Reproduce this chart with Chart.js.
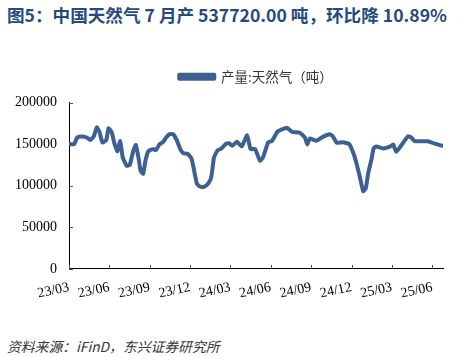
<!DOCTYPE html>
<html><head><meta charset="utf-8">
<script src="https://cdn.jsdelivr.net/npm/chart.js@4"></script>
<style>
html,body{margin:0;padding:0;background:#fff;width:471px;height:357px;overflow:hidden;}
#title{position:absolute;left:7px;top:2px;font:bold 17.6px "Noto Sans CJK SC","Noto Sans",sans-serif;color:#264a7e;white-space:nowrap;}
#src{position:absolute;left:7px;top:336px;font:italic 13.8px "Noto Sans CJK SC","Liberation Sans",sans-serif;color:#333;white-space:nowrap;}
#wrap{position:absolute;left:0;top:0;width:471px;height:316px;}
</style></head>
<body>
<div id="title">图5：中国天然气 7 月产 537720.00 吨，环比降 10.89%</div>
<div id="wrap"><canvas id="c"></canvas></div>
<div id="src">资料来源：iFinD，东兴证券研究所</div>
<script>
const seriesName = '产量:天然气（吨）';
const tickLabels = ['23/03','23/06','23/09','23/12','24/03','24/06','24/09','24/12','25/03','25/06'];
const dates = [
'2023-03-01','2023-03-13','2023-03-20','2023-04-01','2023-04-12','2023-04-18','2023-04-26','2023-05-03','2023-05-09','2023-05-16',
'2023-05-25','2023-05-30','2023-06-06','2023-06-13','2023-06-19','2023-06-25','2023-07-01','2023-07-10','2023-07-17','2023-07-25',
'2023-07-31','2023-08-07','2023-08-11','2023-08-17','2023-08-22','2023-08-29','2023-09-08','2023-09-15','2023-09-23','2023-10-01',
'2023-10-07','2023-10-16','2023-10-24','2023-11-01','2023-11-10','2023-11-16','2023-11-25','2023-12-04','2023-12-09','2023-12-17',
'2023-12-25','2024-01-03','2024-01-12','2024-01-19','2024-01-25','2024-02-02','2024-02-11','2024-02-20','2024-02-27','2024-03-05',
'2024-03-16','2024-03-27','2024-04-08','2024-04-16','2024-04-26','2024-05-07','2024-05-14','2024-05-26','2024-06-03','2024-06-16',
'2024-06-26','2024-07-08','2024-07-19','2024-08-06','2024-08-18','2024-08-23','2024-08-29','2024-09-12','2024-09-27','2024-10-13',
'2024-10-20','2024-10-29','2024-11-12','2024-11-26','2024-12-05','2024-12-11','2024-12-20','2024-12-28','2025-01-03','2025-01-08',
'2025-01-16','2025-01-21','2025-01-27','2025-02-11','2025-02-26','2025-03-04','2025-03-11','2025-03-22','2025-04-07','2025-04-14',
'2025-04-22','2025-05-22','2025-06-07','2025-06-18','2025-06-25'];
const values = [
150000,150000,158000,159000,157500,155000,159000,170000,165000,152000,
155000,169000,164500,149500,141500,153500,133500,124000,125000,141500,
149000,131000,117800,114600,129700,141600,144000,143000,150000,152700,
157400,162000,162000,155000,143000,139000,138400,133000,121700,102000,
98800,98800,102700,110700,133600,142400,144800,150300,151000,148000,
152700,147200,160700,144000,144200,130000,134000,152300,153500,165000,
167800,169300,164600,163600,157400,149600,156700,154000,158700,161800,
159500,151700,152300,150000,139600,129700,111000,93400,97000,113900,
131700,145000,147200,144800,147200,149600,140800,148000,159500,158000,
153500,153500,150500,148700,147900];

function monthIndex(s){
  const [y,m,d] = s.split('-').map(Number);
  const dim = new Date(y, m, 0).getDate();
  return (y-2023)*12 + (m-3) + (d-1)/dim;
}
const points = dates.map((d,i)=>({x: monthIndex(d), y: values[i]}));
const lineColor = '#3c5f94';

const insideTicks = {
  id:'insideTicks',
  beforeInit(chart){
    const lg = chart.legend;
    if (lg){
      const origFit = lg.fit;
      lg.fit = function(){ origFit.call(this); this.height += 9; };
    }
  },
  afterLayout(chart){
    if (chart.legend){ chart.legend.left += 33; chart.legend.right += 33; }
  },
  afterDraw(chart){
    const ctx = chart.ctx, a = chart.chartArea;
    const xs = chart.scales.x, ys = chart.scales.y;
    ctx.save();
    ctx.lineWidth = 1;
    ctx.strokeStyle = '#555';
    xs.ticks.forEach(t=>{
      const px = Math.round(xs.getPixelForValue(t.value))+0.5;
      ctx.beginPath(); ctx.moveTo(px, a.bottom); ctx.lineTo(px, a.bottom-4); ctx.stroke();
    });
    ys.ticks.forEach(t=>{
      const py = Math.round(ys.getPixelForValue(t.value))+0.5;
      ctx.beginPath(); ctx.moveTo(a.left, py); ctx.lineTo(a.left+4, py); ctx.stroke();
    });
    ctx.restore();
  }
};

new Chart(document.getElementById('c'), {
  type:'line',
  data:{datasets:[{label:seriesName, data:points, borderColor:lineColor, backgroundColor:lineColor,
    borderWidth:4, pointRadius:0, fill:false, tension:0.15, borderJoinStyle:'round', borderCapStyle:'round'}]},
  options:{
    responsive:true, maintainAspectRatio:false, animation:false,
    layout:{padding:{top:52,left:3,right:28,bottom:4}},
    plugins:{
      legend:{display:true, position:'top',
        labels:{boxWidth:35, boxHeight:4, padding:18, color:'#333',
          font:{family:'"Noto Sans CJK SC","Noto Sans",sans-serif', size:13.5}}},
      tooltip:{enabled:false}
    },
    scales:{
      x:{type:'linear', min:0, max:monthIndex(dates[dates.length-1]),
        afterBuildTicks(scale){ scale.ticks = tickLabels.map((l,i)=>({value:i*3})); },
        grid:{display:false, drawTicks:false},
        border:{display:true, color:'#000', width:1},
        ticks:{autoSkip:false, maxRotation:12, minRotation:12, padding:10, color:'#000',
          font:{family:'"Liberation Serif","DejaVu Serif",serif', size:14},
          callback:(v)=>tickLabels[Math.round(v/3)]}},
      y:{min:0, max:200000,
        grid:{display:false, drawTicks:false},
        border:{display:true, color:'#000', width:1},
        ticks:{stepSize:50000, padding:12, color:'#000',
          font:{family:'"Liberation Serif","DejaVu Serif",serif', size:14},
          callback:(v)=>String(v)}}
    }
  },
  plugins:[insideTicks]
});
</script>
</body></html>
